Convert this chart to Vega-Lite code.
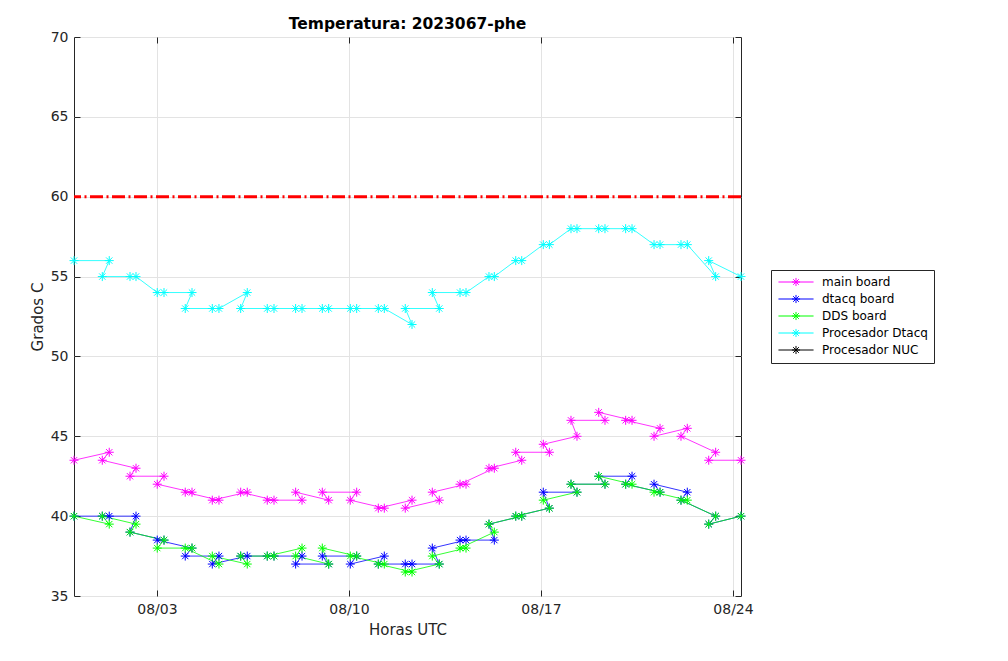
{
  "$schema": "https://vega.github.io/schema/vega-lite/v6.json",
  "width": 667,
  "height": 559,
  "autosize": {"type": "none"},
  "padding": {"left": 74, "top": 37, "right": 267, "bottom": 65},
  "background": "white",
  "title": {"text": "Temperatura: 2023067-phe", "fontSize": 15.5, "fontWeight": "bold", "font": "DejaVu Sans", "color": "black", "offset": -2},
  "config": {
    "font": "DejaVu Sans",
    "view": {"stroke": "#262626", "strokeWidth": 1},
    "axis": {"labelFont": "DejaVu Sans", "titleFont": "DejaVu Sans", "labelColor": "#262626", "titleColor": "#262626", "tickColor": "#262626", "gridColor": "#E3E3E3", "domain": false, "labelFontSize": 14, "titleFontSize": 15, "titleFontWeight": "normal", "tickSize": -6, "tickWidth": 1}
  },
  "datasets": {
    "temps": [
      {"s":"main board","t":"2023-07-30T23:25","v":43.5,"k":0},
      {"s":"main board","t":"2023-08-01T00:10","v":43.5,"k":2},
      {"s":"main board","t":"2023-08-01T06:15","v":44,"k":1},
      {"s":"main board","t":"2023-08-02T00:25","v":42.5,"k":4},
      {"s":"main board","t":"2023-08-02T05:40","v":43,"k":3},
      {"s":"main board","t":"2023-08-03T00:15","v":42,"k":6},
      {"s":"main board","t":"2023-08-03T06:10","v":42.5,"k":5},
      {"s":"main board","t":"2023-08-04T00:45","v":41.5,"k":8},
      {"s":"main board","t":"2023-08-04T06:40","v":41.5,"k":7},
      {"s":"main board","t":"2023-08-05T00:25","v":41,"k":10},
      {"s":"main board","t":"2023-08-05T06:15","v":41,"k":9},
      {"s":"main board","t":"2023-08-06T01:15","v":41.5,"k":12},
      {"s":"main board","t":"2023-08-06T07:00","v":41.5,"k":11},
      {"s":"main board","t":"2023-08-07T00:30","v":41,"k":14},
      {"s":"main board","t":"2023-08-07T06:25","v":41,"k":13},
      {"s":"main board","t":"2023-08-08T01:20","v":41.5,"k":16},
      {"s":"main board","t":"2023-08-08T06:55","v":41,"k":15},
      {"s":"main board","t":"2023-08-09T00:40","v":41.5,"k":18},
      {"s":"main board","t":"2023-08-09T06:15","v":41,"k":17},
      {"s":"main board","t":"2023-08-10T01:10","v":41,"k":20},
      {"s":"main board","t":"2023-08-10T06:45","v":41.5,"k":19},
      {"s":"main board","t":"2023-08-11T01:40","v":40.5,"k":22},
      {"s":"main board","t":"2023-08-11T06:55","v":40.5,"k":21},
      {"s":"main board","t":"2023-08-12T01:15","v":40.5,"k":24},
      {"s":"main board","t":"2023-08-12T07:10","v":41,"k":23},
      {"s":"main board","t":"2023-08-13T00:55","v":41.5,"k":26},
      {"s":"main board","t":"2023-08-13T07:00","v":41,"k":25},
      {"s":"main board","t":"2023-08-14T01:10","v":42,"k":28},
      {"s":"main board","t":"2023-08-14T06:25","v":42,"k":27},
      {"s":"main board","t":"2023-08-15T02:30","v":43,"k":30},
      {"s":"main board","t":"2023-08-15T07:10","v":43,"k":29},
      {"s":"main board","t":"2023-08-16T01:55","v":44,"k":32},
      {"s":"main board","t":"2023-08-16T07:10","v":43.5,"k":31},
      {"s":"main board","t":"2023-08-17T02:00","v":44.5,"k":34},
      {"s":"main board","t":"2023-08-17T07:20","v":44,"k":33},
      {"s":"main board","t":"2023-08-18T02:15","v":46,"k":36},
      {"s":"main board","t":"2023-08-18T07:30","v":45,"k":35},
      {"s":"main board","t":"2023-08-19T02:30","v":46.5,"k":38},
      {"s":"main board","t":"2023-08-19T08:00","v":46,"k":37},
      {"s":"main board","t":"2023-08-20T02:05","v":46,"k":40},
      {"s":"main board","t":"2023-08-20T07:40","v":46,"k":39},
      {"s":"main board","t":"2023-08-21T02:55","v":45,"k":42},
      {"s":"main board","t":"2023-08-21T08:10","v":45.5,"k":41},
      {"s":"main board","t":"2023-08-22T02:30","v":45,"k":44},
      {"s":"main board","t":"2023-08-22T08:00","v":45.5,"k":43},
      {"s":"main board","t":"2023-08-23T02:45","v":43.5,"k":46},
      {"s":"main board","t":"2023-08-23T08:50","v":44,"k":45},
      {"s":"main board","t":"2023-08-24T07:00","v":43.5,"k":47},

      {"s":"dtacq board","t":"2023-07-30T23:25","v":40,"k":0},
      {"s":"dtacq board","t":"2023-08-01T00:10","v":40,"k":2},
      {"s":"dtacq board","t":"2023-08-01T06:15","v":40,"k":1},
      {"s":"dtacq board","t":"2023-08-02T00:25","v":39,"k":4},
      {"s":"dtacq board","t":"2023-08-02T05:40","v":40,"k":3},
      {"s":"dtacq board","t":"2023-08-03T00:15","v":38.5,"k":6},
      {"s":"dtacq board","t":"2023-08-03T06:10","v":38.5,"k":5},
      {"s":"dtacq board","t":"2023-08-04T00:45","v":37.5,"k":8},
      {"s":"dtacq board","t":"2023-08-04T06:40","v":38,"k":7},
      {"s":"dtacq board","t":"2023-08-05T00:25","v":37,"k":10},
      {"s":"dtacq board","t":"2023-08-05T06:15","v":37.5,"k":9},
      {"s":"dtacq board","t":"2023-08-06T01:15","v":37.5,"k":12},
      {"s":"dtacq board","t":"2023-08-06T07:00","v":37.5,"k":11},
      {"s":"dtacq board","t":"2023-08-07T00:30","v":37.5,"k":14},
      {"s":"dtacq board","t":"2023-08-07T06:25","v":37.5,"k":13},
      {"s":"dtacq board","t":"2023-08-08T01:20","v":37,"k":16},
      {"s":"dtacq board","t":"2023-08-08T06:55","v":37.5,"k":15},
      {"s":"dtacq board","t":"2023-08-09T00:40","v":37.5,"k":18},
      {"s":"dtacq board","t":"2023-08-09T06:15","v":37,"k":17},
      {"s":"dtacq board","t":"2023-08-10T01:10","v":37,"k":20},
      {"s":"dtacq board","t":"2023-08-10T06:45","v":37.5,"k":19},
      {"s":"dtacq board","t":"2023-08-11T01:40","v":37,"k":22},
      {"s":"dtacq board","t":"2023-08-11T06:55","v":37.5,"k":21},
      {"s":"dtacq board","t":"2023-08-12T01:15","v":37,"k":24},
      {"s":"dtacq board","t":"2023-08-12T07:10","v":37,"k":23},
      {"s":"dtacq board","t":"2023-08-13T00:55","v":38,"k":26},
      {"s":"dtacq board","t":"2023-08-13T07:00","v":37,"k":25},
      {"s":"dtacq board","t":"2023-08-14T01:10","v":38.5,"k":28},
      {"s":"dtacq board","t":"2023-08-14T06:25","v":38.5,"k":27},
      {"s":"dtacq board","t":"2023-08-15T02:30","v":39.5,"k":30},
      {"s":"dtacq board","t":"2023-08-15T07:10","v":38.5,"k":29},
      {"s":"dtacq board","t":"2023-08-16T01:55","v":40,"k":32},
      {"s":"dtacq board","t":"2023-08-16T07:10","v":40,"k":31},
      {"s":"dtacq board","t":"2023-08-17T02:00","v":41.5,"k":34},
      {"s":"dtacq board","t":"2023-08-17T07:20","v":40.5,"k":33},
      {"s":"dtacq board","t":"2023-08-18T02:15","v":42,"k":36},
      {"s":"dtacq board","t":"2023-08-18T07:30","v":41.5,"k":35},
      {"s":"dtacq board","t":"2023-08-19T02:30","v":42.5,"k":38},
      {"s":"dtacq board","t":"2023-08-19T08:00","v":42,"k":37},
      {"s":"dtacq board","t":"2023-08-20T02:05","v":42,"k":40},
      {"s":"dtacq board","t":"2023-08-20T07:40","v":42.5,"k":39},
      {"s":"dtacq board","t":"2023-08-21T02:55","v":42,"k":42},
      {"s":"dtacq board","t":"2023-08-21T08:10","v":41.5,"k":41},
      {"s":"dtacq board","t":"2023-08-22T02:30","v":41,"k":44},
      {"s":"dtacq board","t":"2023-08-22T08:00","v":41.5,"k":43},
      {"s":"dtacq board","t":"2023-08-23T02:45","v":39.5,"k":46},
      {"s":"dtacq board","t":"2023-08-23T08:50","v":40,"k":45},
      {"s":"dtacq board","t":"2023-08-24T07:00","v":40,"k":47},

      {"s":"DDS board","t":"2023-07-30T23:25","v":40,"k":0},
      {"s":"DDS board","t":"2023-08-01T00:10","v":40,"k":2},
      {"s":"DDS board","t":"2023-08-01T06:15","v":39.5,"k":1},
      {"s":"DDS board","t":"2023-08-02T00:25","v":39,"k":4},
      {"s":"DDS board","t":"2023-08-02T05:40","v":39.5,"k":3},
      {"s":"DDS board","t":"2023-08-03T00:15","v":38,"k":6},
      {"s":"DDS board","t":"2023-08-03T06:10","v":38.5,"k":5},
      {"s":"DDS board","t":"2023-08-04T00:45","v":38,"k":8},
      {"s":"DDS board","t":"2023-08-04T06:40","v":38,"k":7},
      {"s":"DDS board","t":"2023-08-05T00:25","v":37.5,"k":10},
      {"s":"DDS board","t":"2023-08-05T06:15","v":37,"k":9},
      {"s":"DDS board","t":"2023-08-06T01:15","v":37.5,"k":12},
      {"s":"DDS board","t":"2023-08-06T07:00","v":37,"k":11},
      {"s":"DDS board","t":"2023-08-07T00:30","v":37.5,"k":14},
      {"s":"DDS board","t":"2023-08-07T06:25","v":37.5,"k":13},
      {"s":"DDS board","t":"2023-08-08T01:20","v":37.5,"k":16},
      {"s":"DDS board","t":"2023-08-08T06:55","v":38,"k":15},
      {"s":"DDS board","t":"2023-08-09T00:40","v":38,"k":18},
      {"s":"DDS board","t":"2023-08-09T06:15","v":37,"k":17},
      {"s":"DDS board","t":"2023-08-10T01:10","v":37.5,"k":20},
      {"s":"DDS board","t":"2023-08-10T06:45","v":37.5,"k":19},
      {"s":"DDS board","t":"2023-08-11T01:40","v":37,"k":22},
      {"s":"DDS board","t":"2023-08-11T06:55","v":37,"k":21},
      {"s":"DDS board","t":"2023-08-12T01:15","v":36.5,"k":24},
      {"s":"DDS board","t":"2023-08-12T07:10","v":36.5,"k":23},
      {"s":"DDS board","t":"2023-08-13T00:55","v":37.5,"k":26},
      {"s":"DDS board","t":"2023-08-13T07:00","v":37,"k":25},
      {"s":"DDS board","t":"2023-08-14T01:10","v":38,"k":28},
      {"s":"DDS board","t":"2023-08-14T06:25","v":38,"k":27},
      {"s":"DDS board","t":"2023-08-15T02:30","v":39.5,"k":30},
      {"s":"DDS board","t":"2023-08-15T07:10","v":39,"k":29},
      {"s":"DDS board","t":"2023-08-16T01:55","v":40,"k":32},
      {"s":"DDS board","t":"2023-08-16T07:10","v":40,"k":31},
      {"s":"DDS board","t":"2023-08-17T02:00","v":41,"k":34},
      {"s":"DDS board","t":"2023-08-17T07:20","v":40.5,"k":33},
      {"s":"DDS board","t":"2023-08-18T02:15","v":42,"k":36},
      {"s":"DDS board","t":"2023-08-18T07:30","v":41.5,"k":35},
      {"s":"DDS board","t":"2023-08-19T02:30","v":42.5,"k":38},
      {"s":"DDS board","t":"2023-08-19T08:00","v":42,"k":37},
      {"s":"DDS board","t":"2023-08-20T02:05","v":42,"k":40},
      {"s":"DDS board","t":"2023-08-20T07:40","v":42,"k":39},
      {"s":"DDS board","t":"2023-08-21T02:55","v":41.5,"k":42},
      {"s":"DDS board","t":"2023-08-21T08:10","v":41.5,"k":41},
      {"s":"DDS board","t":"2023-08-22T02:30","v":41,"k":44},
      {"s":"DDS board","t":"2023-08-22T08:00","v":41,"k":43},
      {"s":"DDS board","t":"2023-08-23T02:45","v":39.5,"k":46},
      {"s":"DDS board","t":"2023-08-23T08:50","v":40,"k":45},
      {"s":"DDS board","t":"2023-08-24T07:00","v":40,"k":47},

      {"s":"Procesador Dtacq","t":"2023-07-30T23:25","v":56,"k":0},
      {"s":"Procesador Dtacq","t":"2023-08-01T00:10","v":55,"k":2},
      {"s":"Procesador Dtacq","t":"2023-08-01T06:15","v":56,"k":1},
      {"s":"Procesador Dtacq","t":"2023-08-02T00:25","v":55,"k":3},
      {"s":"Procesador Dtacq","t":"2023-08-02T05:40","v":55,"k":4},
      {"s":"Procesador Dtacq","t":"2023-08-03T00:15","v":54,"k":5},
      {"s":"Procesador Dtacq","t":"2023-08-03T06:10","v":54,"k":6},
      {"s":"Procesador Dtacq","t":"2023-08-04T00:45","v":53,"k":8},
      {"s":"Procesador Dtacq","t":"2023-08-04T06:40","v":54,"k":7},
      {"s":"Procesador Dtacq","t":"2023-08-05T00:25","v":53,"k":9},
      {"s":"Procesador Dtacq","t":"2023-08-05T06:15","v":53,"k":10},
      {"s":"Procesador Dtacq","t":"2023-08-06T01:15","v":53,"k":12},
      {"s":"Procesador Dtacq","t":"2023-08-06T07:00","v":54,"k":11},
      {"s":"Procesador Dtacq","t":"2023-08-07T00:30","v":53,"k":13},
      {"s":"Procesador Dtacq","t":"2023-08-07T06:25","v":53,"k":14},
      {"s":"Procesador Dtacq","t":"2023-08-08T01:20","v":53,"k":15},
      {"s":"Procesador Dtacq","t":"2023-08-08T06:55","v":53,"k":16},
      {"s":"Procesador Dtacq","t":"2023-08-09T00:40","v":53,"k":17},
      {"s":"Procesador Dtacq","t":"2023-08-09T06:15","v":53,"k":18},
      {"s":"Procesador Dtacq","t":"2023-08-10T01:10","v":53,"k":19},
      {"s":"Procesador Dtacq","t":"2023-08-10T06:45","v":53,"k":20},
      {"s":"Procesador Dtacq","t":"2023-08-11T01:40","v":53,"k":21},
      {"s":"Procesador Dtacq","t":"2023-08-11T06:55","v":53,"k":22},
      {"s":"Procesador Dtacq","t":"2023-08-12T01:15","v":53,"k":24},
      {"s":"Procesador Dtacq","t":"2023-08-12T07:10","v":52,"k":23},
      {"s":"Procesador Dtacq","t":"2023-08-13T00:55","v":54,"k":26},
      {"s":"Procesador Dtacq","t":"2023-08-13T07:00","v":53,"k":25},
      {"s":"Procesador Dtacq","t":"2023-08-14T01:10","v":54,"k":27},
      {"s":"Procesador Dtacq","t":"2023-08-14T06:25","v":54,"k":28},
      {"s":"Procesador Dtacq","t":"2023-08-15T02:30","v":55,"k":29},
      {"s":"Procesador Dtacq","t":"2023-08-15T07:10","v":55,"k":30},
      {"s":"Procesador Dtacq","t":"2023-08-16T01:55","v":56,"k":31},
      {"s":"Procesador Dtacq","t":"2023-08-16T07:10","v":56,"k":32},
      {"s":"Procesador Dtacq","t":"2023-08-17T02:00","v":57,"k":33},
      {"s":"Procesador Dtacq","t":"2023-08-17T07:20","v":57,"k":34},
      {"s":"Procesador Dtacq","t":"2023-08-18T02:15","v":58,"k":35},
      {"s":"Procesador Dtacq","t":"2023-08-18T07:30","v":58,"k":36},
      {"s":"Procesador Dtacq","t":"2023-08-19T02:30","v":58,"k":37},
      {"s":"Procesador Dtacq","t":"2023-08-19T08:00","v":58,"k":38},
      {"s":"Procesador Dtacq","t":"2023-08-20T02:05","v":58,"k":39},
      {"s":"Procesador Dtacq","t":"2023-08-20T07:40","v":58,"k":40},
      {"s":"Procesador Dtacq","t":"2023-08-21T02:55","v":57,"k":41},
      {"s":"Procesador Dtacq","t":"2023-08-21T08:10","v":57,"k":42},
      {"s":"Procesador Dtacq","t":"2023-08-22T02:30","v":57,"k":43},
      {"s":"Procesador Dtacq","t":"2023-08-22T08:00","v":57,"k":44},
      {"s":"Procesador Dtacq","t":"2023-08-23T02:45","v":56,"k":46},
      {"s":"Procesador Dtacq","t":"2023-08-23T08:50","v":55,"k":45},
      {"s":"Procesador Dtacq","t":"2023-08-24T07:00","v":55,"k":47}
    ],
    "limit": [{"lim": 60}]
  },
  "layer": [
    {
      "data": {"name": "limit"},
      "mark": {"type": "rule", "color": "#FF0000", "strokeWidth": 3, "strokeDash": [13, 3.5, 2, 3.5]},
      "encoding": {"y": {"field": "lim", "type": "quantitative", "scale": {"domain": [35, 70]}, "axis": {"values": [35, 40, 45, 50, 55, 60, 65, 70], "title": "Grados C", "grid": true, "labelPadding": 12, "titlePadding": 5}}}
    },
    {
      "data": {"name": "temps"},
      "mark": {"type": "line", "strokeWidth": 0.8},
      "encoding": {
        "x": {"field": "t", "type": "temporal",
              "scale": {"domain": [{"year": 2023, "month": 7, "date": 30, "hours": 23, "minutes": 25}, {"year": 2023, "month": 8, "date": 24, "hours": 7}]},
              "axis": {"values": [{"year": 2023, "month": 8, "date": 3}, {"year": 2023, "month": 8, "date": 10}, {"year": 2023, "month": 8, "date": 17}, {"year": 2023, "month": 8, "date": 24}], "format": "%m/%d", "title": "Horas UTC", "grid": true, "labelPadding": 12, "titlePadding": 6}},
        "y": {"field": "v", "type": "quantitative", "axis": {"orient": "right", "values": [35, 40, 45, 50, 55, 60, 65, 70], "labels": false, "title": null, "grid": false}},
        "color": {"field": "s", "type": "nominal",
                  "scale": {"domain": ["main board", "dtacq board", "DDS board", "Procesador Dtacq", "Procesador NUC"], "range": ["#FF00FF", "#0000FF", "#00FF00", "#00FFFF", "#000000"]},
                  "legend": {"title": null, "orient": "none", "legendX": 697, "legendY": 233, "direction": "vertical", "strokeColor": "#262626", "fillColor": "white", "padding": 6,
                             "symbolType": "M-3.9,0L3.9,0M0,-0.9L0,0.9M-0.9,0L0.9,0M-0.63,-0.63L0.63,0.63M-0.63,0.63L0.63,-0.63",
                             "symbolSize": 81, "symbolStrokeWidth": 1, "symbolFillColor": "transparent", "symbolOffset": 13, "labelOffset": 20,
                             "labelFontSize": 12, "labelFont": "DejaVu Sans", "labelColor": "black", "rowPadding": 3}},
        "order": {"field": "k", "type": "quantitative"}
      }
    },
    {
      "data": {"name": "temps"},
      "mark": {"type": "point", "shape": "M0,-1L0,1M-1,0L1,0M-0.7,-0.7L0.7,0.7M-0.7,0.7L0.7,-0.7", "filled": false, "size": 81, "strokeWidth": 1, "opacity": 1},
      "encoding": {
        "x": {"field": "t", "type": "temporal", "axis": {"orient": "top", "values": [{"year": 2023, "month": 8, "date": 3}, {"year": 2023, "month": 8, "date": 10}, {"year": 2023, "month": 8, "date": 17}, {"year": 2023, "month": 8, "date": 24}], "labels": false, "title": null, "grid": false}},
        "y": {"field": "v", "type": "quantitative", "axis": null},
        "color": {"field": "s", "type": "nominal", "legend": null}
      }
    }
  ],
  "resolve": {"axis": {"x": "independent", "y": "independent"}}
}
